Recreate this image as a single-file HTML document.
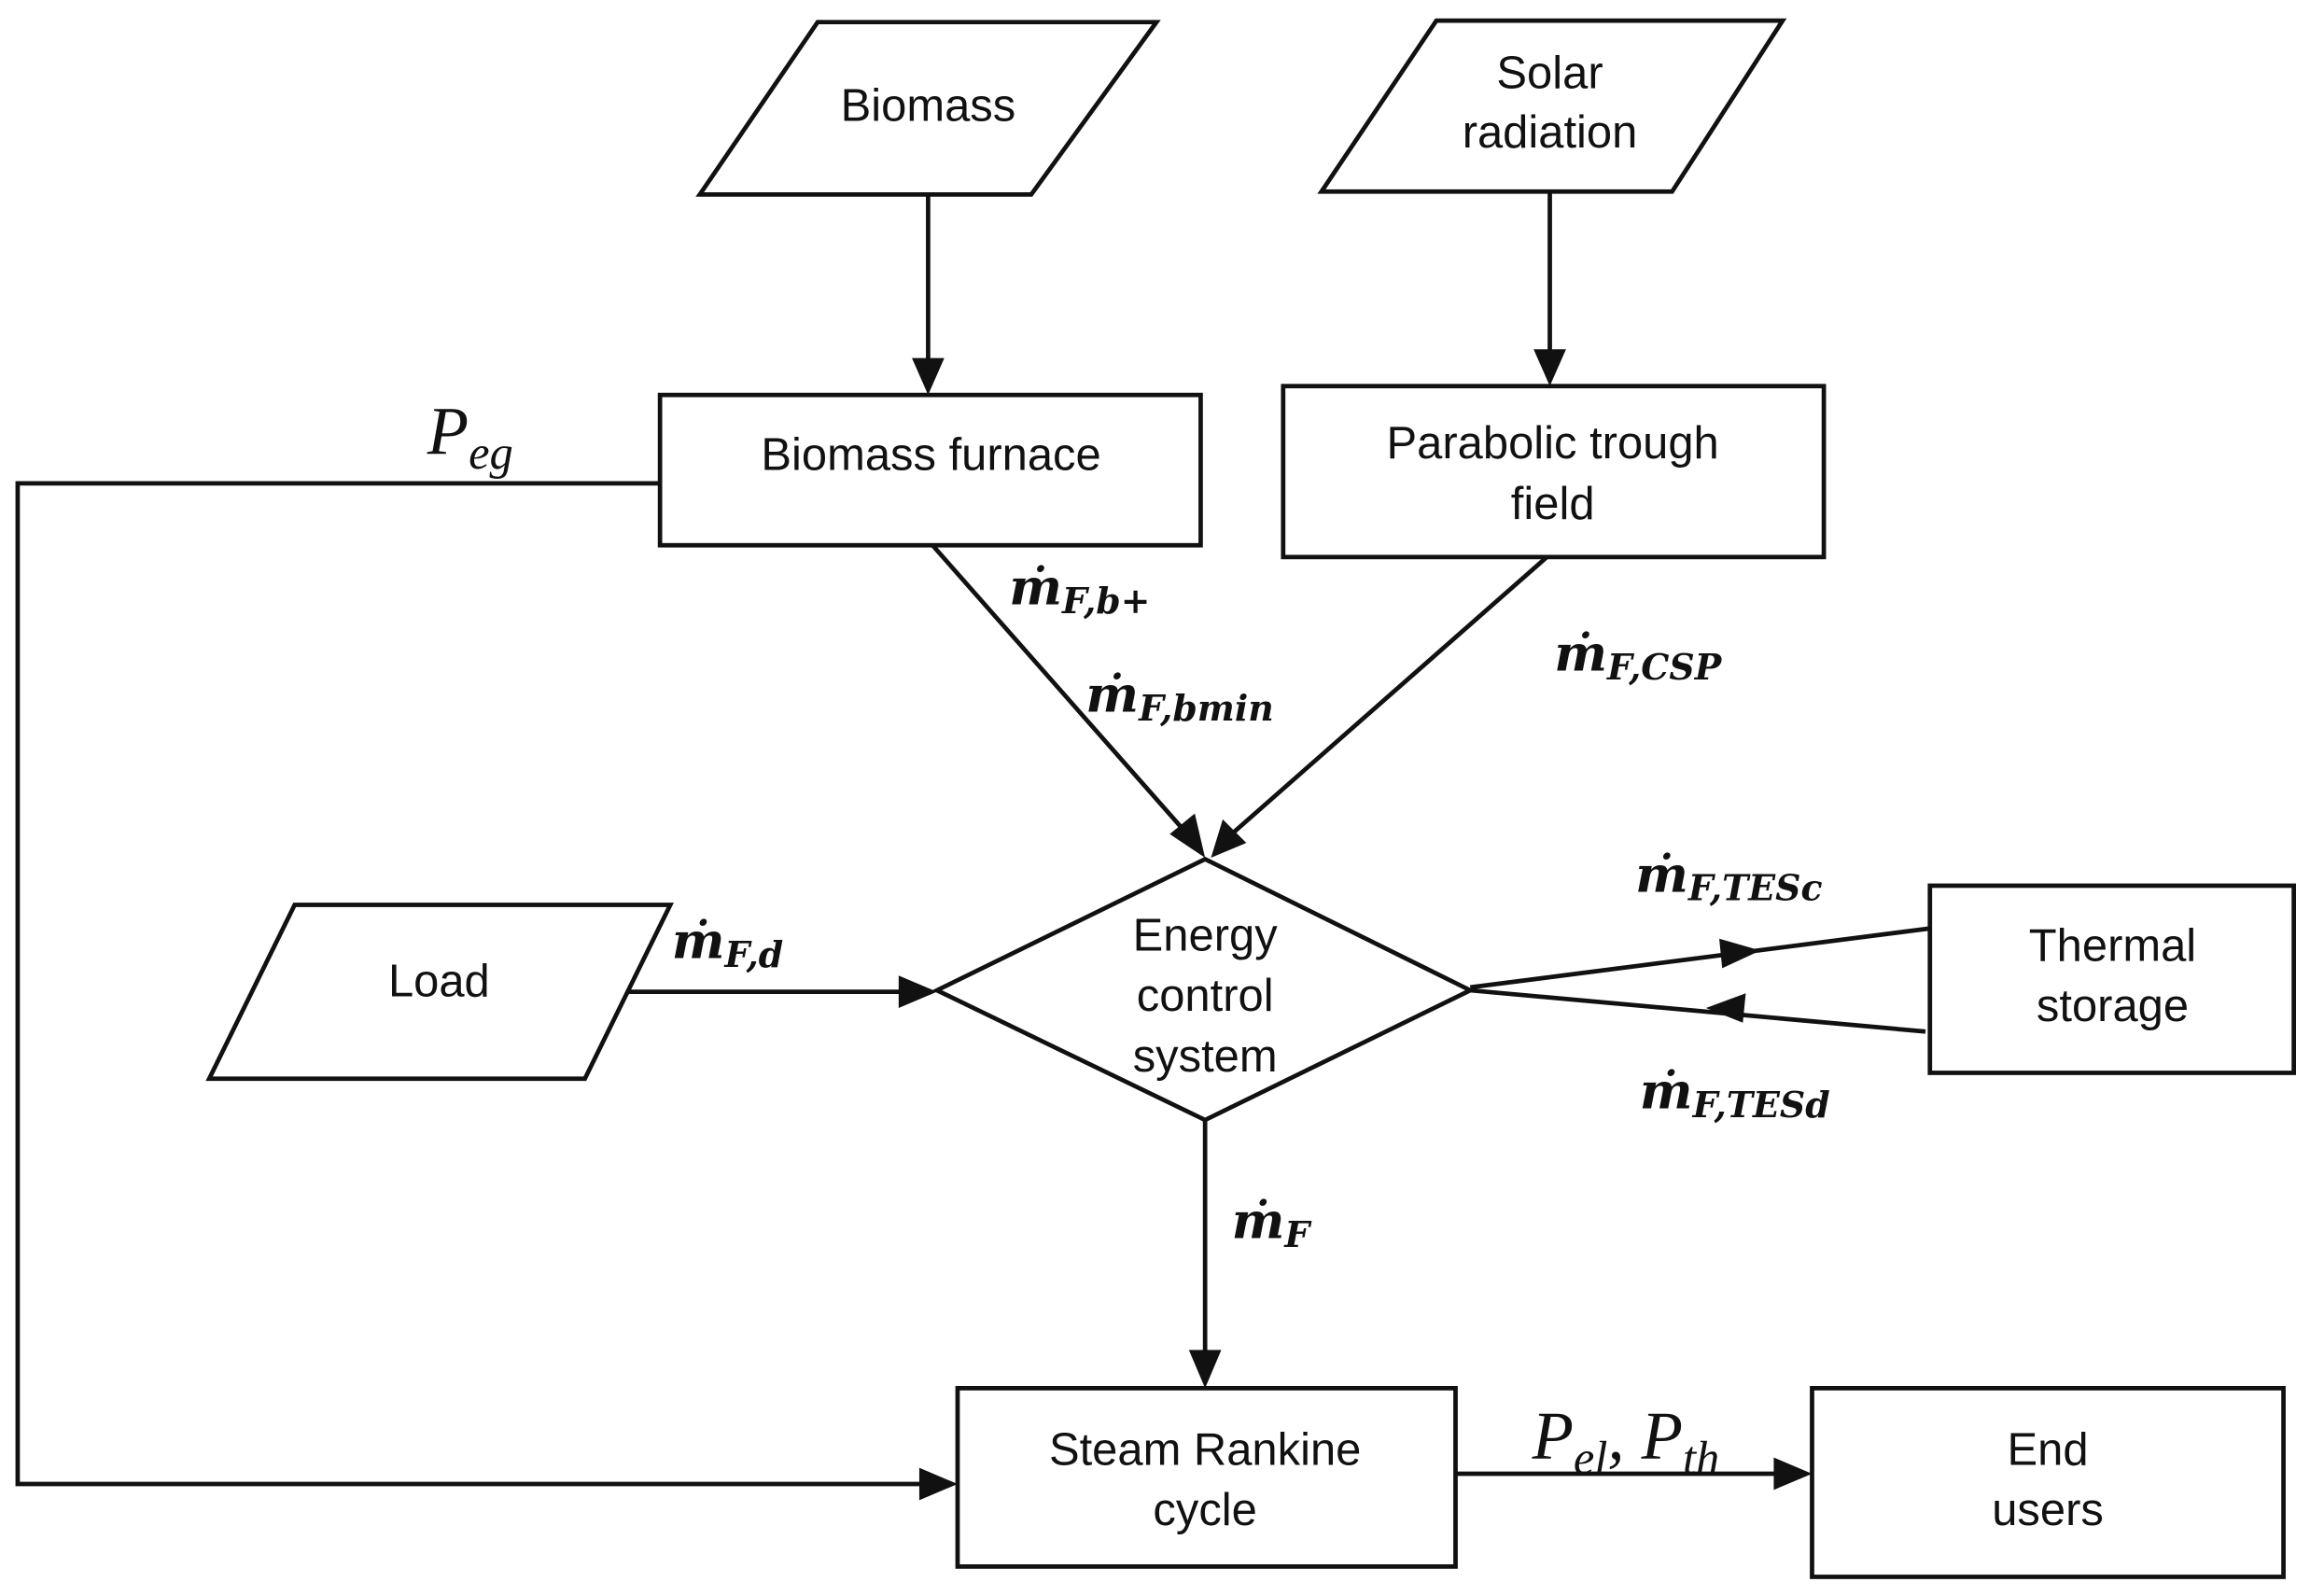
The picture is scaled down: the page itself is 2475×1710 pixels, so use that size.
<!DOCTYPE html>
<html><head><meta charset="utf-8"><style>
html,body{margin:0;padding:0;background:#fff;}
svg{display:block;}
text{font-family:"Liberation Sans",sans-serif;font-size:31px;fill:#111;}
.m{font-family:"DejaVu Serif","Liberation Serif",serif;font-style:italic;font-weight:bold;font-size:34px;}
.s{font-size:24px;}
.p{font-family:"Liberation Serif",serif;font-style:italic;font-size:46px;}
.ps{font-size:32px;}
</style></head><body>
<svg width="2475" height="1710" viewBox="0 0 1568 1083" preserveAspectRatio="none" xmlns="http://www.w3.org/2000/svg">
<g fill="none" stroke="#111" stroke-width="3">
<polygon points="555,15 785,15 700,132 475,132" fill="#fff"/>
<polygon points="975,14 1210,14 1135,130 897,130" fill="#fff"/>
<rect x="448" y="268" width="367" height="102"/>
<rect x="871" y="262" width="367" height="116"/>
<polygon points="818,583 998,672 818,760 636,672"/>
<polygon points="200,614 455,614 397,732 142,732"/>
<rect x="1310" y="601" width="247" height="127"/>
<rect x="650" y="942" width="338" height="121"/>
<rect x="1230" y="942" width="320" height="128"/>
<line x1="630" y1="132" x2="630" y2="245"/>
<line x1="1052" y1="130" x2="1052" y2="240"/>
<polyline points="448,328 12,328 12,1007 625,1007"/>
<line x1="633" y1="370" x2="805" y2="565"/>
<line x1="1050" y1="378" x2="836" y2="566"/>
<line x1="425" y1="673" x2="612" y2="673"/>
<line x1="998" y1="670" x2="1310" y2="630"/>
<line x1="998" y1="672" x2="1307" y2="700"/>
<line x1="818" y1="760" x2="818" y2="918"/>
<line x1="988" y1="1000" x2="1206" y2="1000"/>
</g>
<g fill="#111">
<polygon points="630,268 619,243 641,243"/>
<polygon points="1052,262 1041,237 1063,237"/>
<polygon points="650,1007 624,996 624,1018"/>
<polygon points="818,582 794,566 811,552"/>
<polygon points="822,582 830,556 846,572"/>
<polygon points="636,673 610,662 610,684"/>
<polygon points="1195,645 1167,637 1169,657"/>
<polygon points="1158,684 1185,674 1183,694"/>
<polygon points="818,942 807,916 829,916"/>
<polygon points="1230,1000 1204,989 1204,1011"/>
</g>
<text x="630" y="82" text-anchor="middle">Biomass</text>
<text x="1052" y="60" text-anchor="middle">Solar</text>
<text x="1052" y="100" text-anchor="middle">radiation</text>
<text x="632" y="319" text-anchor="middle">Biomass furnace</text>
<text x="1054" y="311" text-anchor="middle">Parabolic trough</text>
<text x="1054" y="352" text-anchor="middle">field</text>
<text x="298" y="676" text-anchor="middle">Load</text>
<text x="818" y="645" text-anchor="middle">Energy</text>
<text x="818" y="686" text-anchor="middle">control</text>
<text x="818" y="727" text-anchor="middle">system</text>
<text x="1434" y="652" text-anchor="middle">Thermal</text>
<text x="1434" y="693" text-anchor="middle">storage</text>
<text x="818" y="994" text-anchor="middle">Steam Rankine</text>
<text x="818" y="1035" text-anchor="middle">cycle</text>
<text x="1390" y="994" text-anchor="middle">End</text>
<text x="1390" y="1035" text-anchor="middle">users</text>
<text class="m" x="685" y="410">ṁ<tspan class="s" dy="6">F,b+</tspan></text>
<text class="m" x="737" y="483">ṁ<tspan class="s" dy="6">F,bmin</tspan></text>
<text class="m" x="1055" y="455">ṁ<tspan class="s" dy="6">F,CSP</tspan></text>
<text class="m" x="456" y="650">ṁ<tspan class="s" dy="6">F,d</tspan></text>
<text class="m" x="1110" y="605">ṁ<tspan class="s" dy="6">F,TESc</tspan></text>
<text class="m" x="1113" y="752">ṁ<tspan class="s" dy="6">F,TESd</tspan></text>
<text class="m" x="836" y="840">ṁ<tspan class="s" dy="6">F</tspan></text>
<text class="p" x="290" y="308">P<tspan class="ps" dy="10">eg</tspan></text>
<text class="p" x="1040" y="990">P<tspan class="ps" dy="10">el</tspan><tspan dy="-10">, P</tspan><tspan class="ps" dy="10">th</tspan></text>
</svg>
</body></html>
